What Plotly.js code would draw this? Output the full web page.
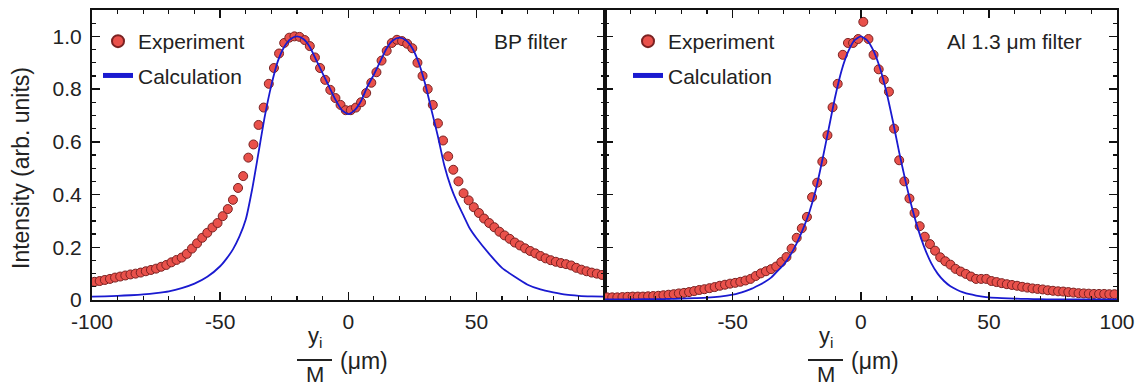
<!DOCTYPE html>
<html>
<head>
<meta charset="utf-8">
<script src="https://cdn.plot.ly/plotly-3.0.1.min.js"></script>
<style>html,body{margin:0;padding:0;background:#fff;}#chart{width:1142px;height:387px;}</style>
</head>
<body>
<div id="chart"></div>
<script>
// Experimental sample positions (µm), shared grid for both panels
const xExp = [-99,-97,-95,-93,-91,-89,-87,-85,-83,-81,-79,-77,-75,-73,-71,-69,-67,-65,-63,-61,
  -59,-57,-55,-53,-51,-49,-47,-45,-43,-41,-39,-37,-35,-33,-31,-29,-27,-25,-23,-21,
  -19,-17,-15,-13,-11,-9,-7,-5,-3,-1,1,3,5,7,9,11,13,15,17,19,
  21,23,25,27,29,31,33,35,37,39,41,43,45,47,49,51,53,55,57,59,
  61,63,65,67,69,71,73,75,77,79,81,83,85,87,89,91,93,95,97,99];

// BP filter – experiment
const expBP = [0.069,0.072,0.076,0.080,0.085,0.089,0.093,0.097,0.100,0.104,
  0.109,0.114,0.119,0.126,0.133,0.143,0.152,0.161,0.175,0.195,
  0.215,0.236,0.255,0.275,0.292,0.318,0.345,0.380,0.425,0.470,
  0.540,0.590,0.664,0.730,0.820,0.880,0.935,0.975,0.995,1.000,
  0.998,0.986,0.963,0.920,0.880,0.835,0.797,0.766,0.740,0.720,
  0.720,0.730,0.750,0.785,0.824,0.864,0.908,0.945,0.975,0.987,
  0.982,0.972,0.955,0.900,0.850,0.800,0.740,0.670,0.605,0.545,
  0.494,0.450,0.405,0.378,0.352,0.330,0.309,0.292,0.276,0.259,
  0.245,0.232,0.218,0.207,0.196,0.186,0.177,0.167,0.158,0.151,
  0.145,0.140,0.136,0.131,0.122,0.115,0.109,0.104,0.100,0.095];

// Al 1.3 µm filter – experiment
const expAl = [0.010,0.010,0.010,0.011,0.012,0.013,0.013,0.013,0.014,0.015,
  0.016,0.018,0.020,0.022,0.025,0.027,0.030,0.034,0.038,0.041,
  0.045,0.049,0.054,0.058,0.062,0.065,0.069,0.074,0.080,0.091,
  0.101,0.109,0.117,0.127,0.144,0.163,0.195,0.236,0.272,0.315,
  0.390,0.445,0.525,0.625,0.731,0.820,0.930,0.975,0.975,0.990,
  1.055,0.990,0.930,0.875,0.835,0.790,0.650,0.530,0.450,0.385,
  0.330,0.280,0.240,0.212,0.187,0.162,0.147,0.134,0.118,0.108,
  0.099,0.089,0.080,0.080,0.080,0.072,0.068,0.064,0.060,0.057,
  0.054,0.050,0.047,0.044,0.042,0.040,0.037,0.035,0.033,0.032,
  0.030,0.028,0.026,0.025,0.024,0.023,0.023,0.023,0.022,0.022];

// Calculation grid
const xCalc = [-100,-95,-90,-85,-80,-75,-70,-65,-60,-55,
  -50,-47.5,-45,-42.5,-40,-37.5,-35,-32.5,-30,-27.5,-25,-22.5,-20,-17.5,-15,-12.5,-10,-7.5,-5,-2.5,
  0,2.5,5,7.5,10,12.5,15,17.5,20,22.5,25,27.5,30,32.5,35,37.5,40,42.5,45,47.5,50,
  55,60,65,70,75,80,85,90,95,100];

const calcBP = [0.013,0.014,0.016,0.018,0.021,0.026,0.033,0.045,0.062,0.088,
  0.128,0.157,0.192,0.240,0.305,0.420,0.560,0.700,0.815,0.905,0.960,0.990,1.000,0.990,0.960,0.910,0.860,0.810,0.760,0.720,
  0.705,0.720,0.755,0.810,0.855,0.905,0.955,0.985,0.995,0.985,0.955,0.900,0.820,0.720,0.620,0.510,0.430,0.370,0.320,0.270,0.235,
  0.175,0.122,0.088,0.058,0.040,0.029,0.020,0.016,0.014,0.013];

const calcAl = [0.002,0.002,0.002,0.003,0.003,0.004,0.005,0.007,0.009,0.013,
  0.020,0.026,0.034,0.043,0.055,0.068,0.085,0.110,0.135,0.170,0.215,0.270,0.335,0.420,0.530,0.650,0.770,0.870,0.940,0.985,
  1.000,0.985,0.945,0.880,0.790,0.680,0.560,0.450,0.350,0.265,0.195,0.140,0.100,0.072,0.052,0.039,0.029,0.022,0.017,0.013,0.010,
  0.007,0.005,0.004,0.003,0.002,0.002,0.002,0.002,0.002,0.002];

const yTickVals = [0, 0.2, 0.4, 0.6, 0.8, 1.0];
const yTickText = ['0', '0.2', '0.4', '0.6', '0.8', '1.0'];
const xTickValsL = [-100, -50, 0, 50];
const xTickTextL = ['-100', '-50', '0', '50'];
const xTickValsR = [-50, 0, 50, 100];
const xTickTextR = ['-50', '0', '50', '100'];

const FONT = 'Liberation Sans, Arial, Helvetica, sans-serif';
const markerStyle = {size: 9, color: '#e9514b', line: {color: '#7a2222', width: 1}};
const lineStyle = {color: '#1a1ad0', width: 1.8, shape: 'spline', smoothing: 0.6};

const traces = [
  {x: xExp, y: expBP, type: 'scatter', mode: 'markers', name: 'Experiment', marker: markerStyle,
   xaxis: 'x', yaxis: 'y', legend: 'legend', legendgroup: 'a'},
  {x: xCalc, y: calcBP, type: 'scatter', mode: 'lines', name: 'Calculation', line: lineStyle,
   xaxis: 'x', yaxis: 'y', legend: 'legend', legendgroup: 'b'},
  {x: xExp, y: expAl, type: 'scatter', mode: 'markers', name: 'Experiment', marker: markerStyle,
   xaxis: 'x2', yaxis: 'y2', legend: 'legend2', legendgroup: 'c'},
  {x: xCalc, y: calcAl, type: 'scatter', mode: 'lines', name: 'Calculation', line: lineStyle,
   xaxis: 'x2', yaxis: 'y2', legend: 'legend2', legendgroup: 'd'}
];

const L = 92, R = 25, T = 10, B = 87, W = 1142, H = 387;
const PW = W - L - R, PH = H - T - B;
const px = v => (v - L) / PW;
const py = v => (H - B - v) / PH;

const xAxisBase = {
  range: [-100, 100], tickmode: 'array', showgrid: false, zeroline: false,
  showline: true, linecolor: '#111', linewidth: 2, mirror: 'ticks',
  ticks: 'inside', ticklen: 8, tickwidth: 1.5, tickcolor: '#111', ticklabelstandoff: 2,
  minor: {dtick: 10, tick0: 0, ticks: 'inside', ticklen: 4, tickwidth: 1.2, tickcolor: '#111'},
  tickfont: {family: FONT, size: 21, color: '#222'}
};
const yAxisBase = {
  range: [0, 1.1], tickmode: 'array', tickvals: yTickVals, ticktext: yTickText,
  showgrid: false, zeroline: false, showline: true, linecolor: '#111', linewidth: 2, mirror: 'ticks',
  ticks: 'inside', ticklen: 8, tickwidth: 1.5, tickcolor: '#111',
  minor: {dtick: 0.05, tick0: 0, ticks: 'inside', ticklen: 4, tickwidth: 1.2, tickcolor: '#111'},
  tickfont: {family: FONT, size: 21, color: '#222'}
};

const annFont = {family: FONT, size: 21, color: '#222'};
const titleFont = {family: FONT, size: 22, color: '#222'};

function fracAnn(cx, leftUnits) {
  return [
    {text: 'y<sub>i</sub>', xref: 'paper', yref: 'paper', x: px(cx), y: py(337), xanchor: 'center', yanchor: 'middle', showarrow: false, font: titleFont, borderpad: 0},
    {text: 'M', xref: 'paper', yref: 'paper', x: px(cx), y: py(374), xanchor: 'center', yanchor: 'middle', showarrow: false, font: titleFont, borderpad: 0},
    {text: '(μm)', xref: 'paper', yref: 'paper', x: px(leftUnits), y: py(361), xanchor: 'left', yanchor: 'middle', showarrow: false, font: {family: FONT, size: 23, color: '#222'}, borderpad: 0}
  ];
}

const layout = {
  width: W, height: H,
  margin: {l: L, r: R, t: T, b: B},
  paper_bgcolor: '#fff', plot_bgcolor: '#fff',
  font: {family: FONT, color: '#222'},
  xaxis: Object.assign({}, xAxisBase, {domain: [0, 0.5], tickvals: xTickValsL, ticktext: xTickTextL, anchor: 'y'}),
  xaxis2: Object.assign({}, xAxisBase, {domain: [0.5, 1], tickvals: xTickValsR, ticktext: xTickTextR, anchor: 'y2'}),
  yaxis: Object.assign({}, yAxisBase, {anchor: 'x', ticklabelstandoff: 4}),
  yaxis2: Object.assign({}, yAxisBase, {anchor: 'x2', showticklabels: false}),
  showlegend: true,
  legend: {x: px(98), y: py(21), xanchor: 'left', yanchor: 'top', bgcolor: 'rgba(0,0,0,0)',
           font: annFont, traceorder: 'grouped', tracegroupgap: 4, itemsizing: 'constant'},
  legend2: {x: px(628), y: py(21), xanchor: 'left', yanchor: 'top', bgcolor: 'rgba(0,0,0,0)',
            font: annFont, traceorder: 'grouped', tracegroupgap: 4, itemsizing: 'constant'},
  annotations: [
    {text: 'BP filter', xref: 'paper', yref: 'paper', x: px(569), y: py(41), xanchor: 'right', yanchor: 'middle', showarrow: false, font: annFont},
    {text: 'Al 1.3 μm filter', xref: 'paper', yref: 'paper', x: px(1084), y: py(41), xanchor: 'right', yanchor: 'middle', showarrow: false, font: annFont},
    {text: 'Intensity (arb. units)', xref: 'paper', yref: 'paper', x: px(21), y: py(168), xanchor: 'center', yanchor: 'middle', textangle: -90, showarrow: false, font: {family: FONT, size: 23, color: '#222'}}
  ].concat(fracAnn(314.5, 339), fracAnn(825.5, 850)),
  shapes: [
    {type: 'line', xref: 'paper', yref: 'paper', x0: px(297), x1: px(332), y0: py(360), y1: py(360), line: {color: '#222', width: 2}},
    {type: 'line', xref: 'paper', yref: 'paper', x0: px(808), x1: px(843), y0: py(360), y1: py(360), line: {color: '#222', width: 2}}
  ]
};

Plotly.newPlot('chart', traces, layout, {staticPlot: true, displayModeBar: false});
</script>
</body>
</html>
